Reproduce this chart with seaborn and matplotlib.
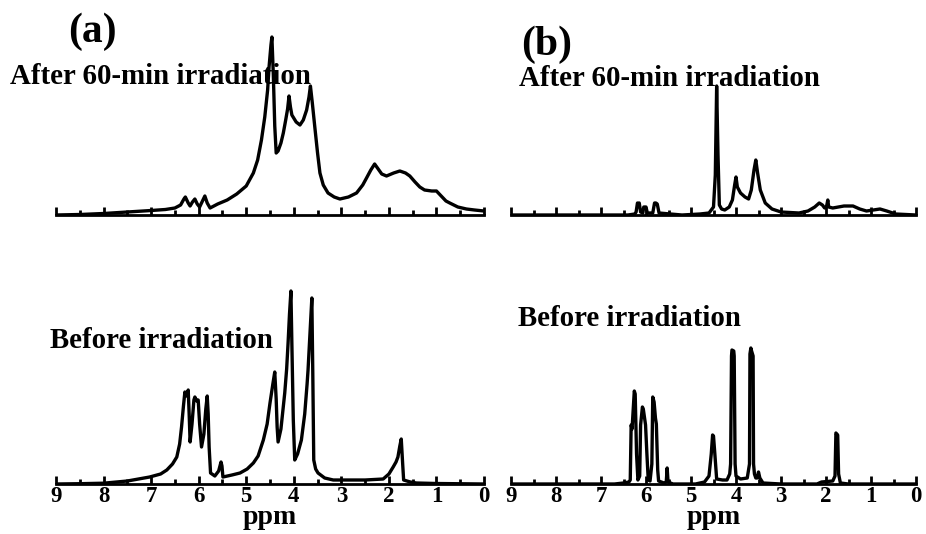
import matplotlib
matplotlib.use("Agg")
import matplotlib.pyplot as plt
import seaborn as sns
import pandas as pd
from matplotlib.ticker import MultipleLocator

# (a) after 60-min irradiation: chemical shift (ppm), intensity (a.u.)
a_after_ppm = [9.0, 8.5, 8.0, 7.5, 7.0, 6.7, 6.5, 6.38, 6.31, 6.28, 6.22, 6.18, 6.13, 6.08,
               6.03, 5.98, 5.92, 5.87, 5.82, 5.76, 5.6, 5.4, 5.2, 5.0, 4.85, 4.76, 4.68,
               4.61, 4.55, 4.52, 4.48, 4.46, 4.43, 4.40, 4.37, 4.33, 4.27, 4.22, 4.17,
               4.13, 4.10, 4.07, 4.04, 3.95, 3.87, 3.80, 3.73, 3.68, 3.65, 3.61, 3.56,
               3.50, 3.45, 3.38, 3.28, 3.15, 3.03, 2.85, 2.68, 2.55, 2.47, 2.38, 2.30,
               2.24, 2.15, 2.05, 1.90, 1.77, 1.65, 1.56, 1.45, 1.35, 1.25, 1.10, 1.00,
               0.90, 0.80, 0.72, 0.55, 0.37, 0.20, 0.0]
a_after_int = [0, 0.5, 1.5, 3, 4.5, 5.5, 7, 10, 16, 18, 12, 9, 13, 16,
               11, 8, 14, 19, 12, 7, 11, 15, 21, 29, 42, 55, 75,
               98, 125, 148, 170, 178, 140, 89, 62, 64, 72, 82, 95,
               106, 119, 108, 100, 93, 90, 95, 105, 118, 129, 112, 89,
               62, 42, 30, 22, 18, 16, 18, 22, 30, 37, 45, 51,
               47, 41, 39, 42, 44, 42, 39, 33, 28, 25, 24, 24,
               19, 14, 12, 8, 6, 5, 4]

# (a) before irradiation
a_before_ppm = [9.0, 8.5, 8.0, 7.5, 7.03, 6.8, 6.67, 6.55, 6.46, 6.40, 6.36, 6.32, 6.29,
                6.25, 6.22, 6.20, 6.18, 6.14, 6.10, 6.08, 6.04, 6.01, 5.98, 5.94, 5.89,
                5.85, 5.82, 5.80, 5.78, 5.75, 5.66, 5.58, 5.53, 5.51, 5.49, 5.30, 5.13,
                4.98, 4.85, 4.75, 4.64, 4.56, 4.50, 4.44, 4.40, 4.37, 4.35, 4.33, 4.27,
                4.19, 4.15, 4.12, 4.09, 4.06, 4.04, 4.01, 3.98, 3.92, 3.84, 3.77, 3.72,
                3.70, 3.66, 3.62, 3.60, 3.58, 3.54, 3.49, 3.35, 3.17, 2.5, 2.12, 2.0,
                1.91, 1.85, 1.81, 1.77, 1.74, 1.71, 1.69, 1.55, 1.42, 1.0, 0.0]
a_before_int = [0, 0.3, 0.8, 3, 7, 10, 14, 20, 27, 40, 57, 78, 92,
                88, 94, 70, 42, 60, 84, 87, 83, 84, 60, 37, 50,
                75, 88, 70, 37, 11, 8, 13, 22, 18, 7, 9, 11,
                15, 21, 28, 44, 60, 81, 100, 112, 85, 57, 42, 55,
                91, 115, 141, 170, 193, 140, 64, 24, 30, 44, 70, 100,
                114, 150, 186, 110, 24, 15, 11, 6, 4, 4, 5, 10,
                17, 22, 27, 38, 45, 20, 4, 2, 1, 0.5, 0]

# (b) after 60-min irradiation
b_after_ppm = [9.0, 6.4, 6.25, 6.22, 6.19, 6.17, 6.15, 6.12, 6.07, 6.05, 6.03, 6.00,
               5.97, 5.85, 5.81, 5.78, 5.75, 5.71, 5.2, 4.8, 4.6, 4.5, 4.46, 4.43,
               4.40, 4.37, 4.32, 4.25, 4.15, 4.08, 4.03, 4.00, 3.97, 3.90, 3.80, 3.72,
               3.66, 3.60, 3.56, 3.52, 3.46, 3.35, 3.2, 3.0, 2.6, 2.4, 2.25, 2.15,
               2.08, 2.03, 1.99, 1.96, 1.94, 1.85, 1.6, 1.4, 1.25, 1.1, 0.95, 0.8,
               0.65, 0.45, 0.0]
b_after_int = [0, 0, 1, 3, 12, 10, 12, 3, 2, 8, 8, 8,
               2, 2, 12, 12, 11, 2, 0, 1, 2, 8, 40, 129,
               60, 10, 6, 5, 8, 15, 30, 38, 28, 22, 18, 16,
               25, 45, 55, 42, 25, 12, 6, 3, 2, 4, 8, 12,
               10, 7, 8, 15, 8, 7, 9, 9, 6, 4, 5, 6,
               4, 1, 0]

# (b) before irradiation
b_before_ppm = [9.0, 6.7, 6.5, 6.38, 6.35, 6.33, 6.31, 6.26, 6.24, 6.21, 6.18, 6.14,
                6.12, 6.08, 6.06, 6.01, 5.98, 5.95, 5.91, 5.87, 5.85, 5.82, 5.79, 5.77,
                5.74, 5.72, 5.6, 5.55, 5.53, 5.51, 5.4, 4.9, 4.7, 4.6, 4.55, 4.52,
                4.50, 4.47, 4.43, 4.3, 4.2, 4.14, 4.12, 4.10, 4.09, 4.05, 4.04, 4.02,
                4.00, 3.9, 3.75, 3.70, 3.69, 3.67, 3.66, 3.62, 3.61, 3.59, 3.56, 3.53,
                3.50, 3.47, 3.4, 3.0, 2.2, 2.1, 1.85, 1.80, 1.78, 1.74, 1.72, 1.68,
                1.5, 0.0]
b_before_int = [0, 0, 1, 2, 4, 59, 55, 93, 90, 30, 4, 8,
                59, 77, 75, 59, 30, 4, 3, 20, 87, 82, 66, 60,
                14, 3, 1, 2, 16, 2, 0, 0, 2, 8, 30, 49,
                48, 30, 5, 4, 4, 10, 20, 128, 134, 133, 128, 20,
                8, 5, 6, 20, 130, 136, 134, 128, 20, 10, 6, 6,
                12, 6, 1, 0, 0, 2, 3, 8, 51, 49, 10, 1,
                0, 0]

ppm_ticks = list(range(10))

W, H = 926, 534
sns.set_theme(style="ticks")
plt.rcParams["font.family"] = ["Liberation Serif", "DejaVu Serif"]
plt.rcParams["font.weight"] = "bold"

fig = plt.figure(figsize=(W / 100, H / 100), dpi=100)


def make_ax(x0, x1, base_y, top_y):
    ax = fig.add_axes([x0 / W, 1 - base_y / H, (x1 - x0) / W, (base_y - top_y) / H])
    ax.set_ylim(0, base_y - top_y)
    ax.set_xlim(9, 0)
    for side in ["top", "left", "right"]:
        ax.spines[side].set_visible(False)
    ax.spines["bottom"].set_linewidth(2)
    ax.spines["bottom"].set_color("black")
    ax.set_yticks([])
    ax.set_xticks(ppm_ticks)
    ax.xaxis.set_minor_locator(MultipleLocator(0.5))
    ax.tick_params(axis="x", which="major", direction="in", length=6, width=2,
                   colors="black", pad=1.5, labelsize=16.5)
    ax.tick_params(axis="x", which="minor", direction="in", length=3.5, width=2,
                   colors="black")
    ax.set_facecolor("none")
    return ax


def draw(ax, ppm, inten, labels):
    df = pd.DataFrame({"ppm": ppm, "intensity": inten})
    sns.lineplot(data=df, x="ppm", y="intensity", ax=ax, color="black",
                 linewidth=2.4, estimator=None, sort=False)
    ax.set_ylabel("")
    if labels:
        ax.set_xlabel("ppm", fontsize=20, fontweight="bold", color="black",
                      labelpad=-1.5)
        for t in ax.get_xticklabels():
            t.set_fontweight("bold")
    else:
        ax.set_xlabel("")
        ax.set_xticklabels([])


ax1 = make_ax(56, 484, 215, 30)
draw(ax1, a_after_ppm, a_after_int, False)
ax2 = make_ax(56, 484, 484, 280)
draw(ax2, a_before_ppm, a_before_int, True)
ax3 = make_ax(511, 916, 215, 30)
draw(ax3, b_after_ppm, b_after_int, False)
ax4 = make_ax(511, 916, 484, 280)
draw(ax4, b_before_ppm, b_before_int, True)


def label(x, y, s, size):
    fig.text(x / W, 1 - y / H, s, fontsize=size, fontweight="bold",
             ha="left", va="baseline", color="black")


label(68, 42, "(a)", 30)
label(521, 55, "(b)", 30)
label(10, 84, "After 60-min irradiation", 20.8)
label(519, 86, "After 60-min irradiation", 20.8)
label(50, 348, "Before irradiation", 20.8)
label(518, 326, "Before irradiation", 20.8)

fig.savefig("out.png", dpi=100)
